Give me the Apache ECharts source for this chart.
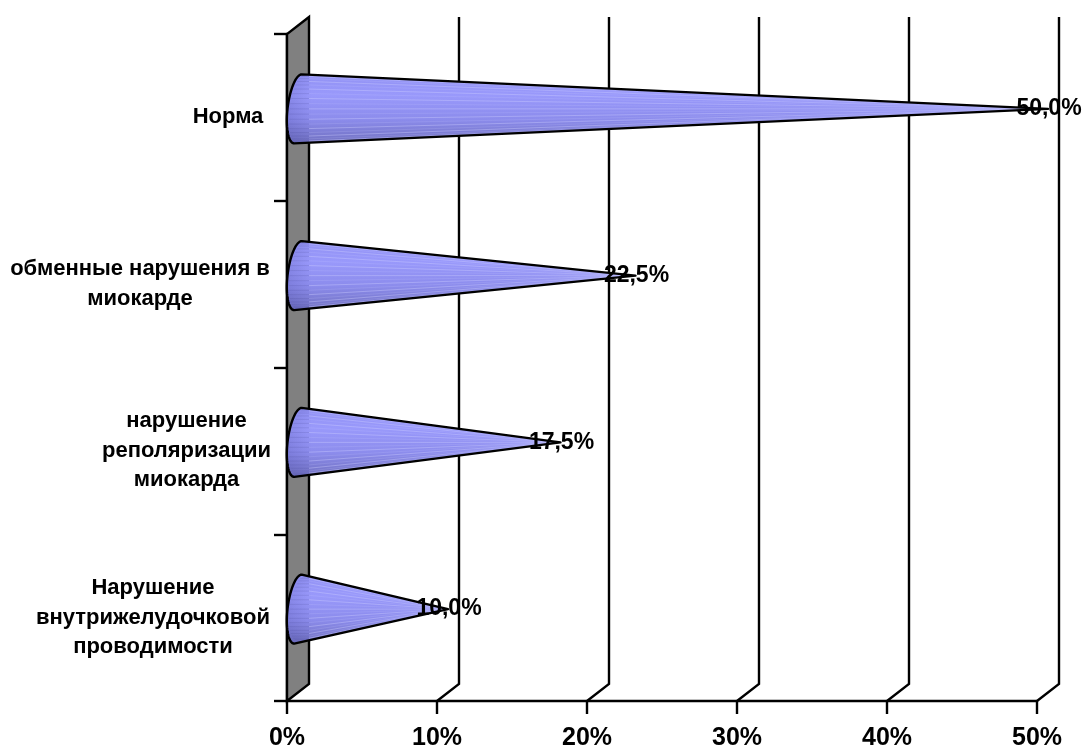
<!DOCTYPE html>
<html>
<head>
<meta charset="utf-8">
<style>html,body{margin:0;padding:0;background:#fff}#chart{width:1085px;height:749px}</style>
<script src="https://cdn.jsdelivr.net/npm/echarts@6/dist/echarts.min.js"></script>
</head>
<body>
<div id="chart"></div>
<script>
// Rows run top to bottom in this order.
const categories = ['Норма', 'обменные нарушения в\nмиокарде', 'нарушение\nреполяризации\nмиокарда', 'Нарушение\nвнутрижелудочковой\nпроводимости'];
const shares = [50, 22.5, 17.5, 10];
const shareLabels = ['50,0%', '22,5%', '17,5%', '10,0%'];
const axisTicks = [0, 10, 20, 30, 40, 50];

// Pseudo-3D depth of the plot box, in pixels.
const DEPTH_X = 22, DEPTH_Y = -17;
const INK = '#000';
const FONT = '"Liberation Sans", Arial, sans-serif';
const STROKE = 2.4;

const chart = echarts.init(document.getElementById('chart'), null, {renderer: 'canvas'});

// Back wall grid lines: a slanted foot from the floor, then straight up the wall.
function renderGridLine(params, api) {
  const x = api.coord([api.value(0), 0])[0];
  const floorY = params.coordSys.y + params.coordSys.height;
  const topY = params.coordSys.y;
  return {
    type: 'polyline',
    shape: {points: [[x, floorY], [x + DEPTH_X, floorY + DEPTH_Y], [x + DEPTH_X, topY + DEPTH_Y]]},
    style: {stroke: INK, lineWidth: STROKE, fill: null},
    silent: true
  };
}

// Grey side wall at the zero line.
function renderWall(params, api) {
  const cs = params.coordSys;
  const x = api.coord([0, 0])[0];
  const b = cs.y + cs.height, t = cs.y;
  return {
    type: 'polygon',
    shape: {points: [[x, b], [x + DEPTH_X, b + DEPTH_Y], [x + DEPTH_X, t + DEPTH_Y], [x, t]]},
    style: {fill: '#808080', stroke: INK, lineWidth: STROKE},
    silent: true
  };
}

// Horizontal cone: elliptical base on the wall, apex at the value.
function renderCone(params, api) {
  const row = api.value(0);
  const value = api.value(1);
  const base = api.coord([0, row]);
  const apex = api.coord([value, row]);
  const cx = base[0] + DEPTH_X / 2, cy = base[1] + DEPTH_Y / 2;
  const tip = [apex[0] + DEPTH_X / 2, apex[1] + DEPTH_Y / 2];
  const halfSpan = api.size([0, 1])[1] * 0.207;
  const lean = 3.8, bulge = 10.5;

  const arc = [];
  for (let i = 0; i <= 40; i++) {
    const t = Math.PI * i / 40;
    arc.push([cx + Math.cos(t) * lean - Math.sin(t) * bulge, cy - Math.cos(t) * halfSpan]);
  }
  const outline = arc.slice().reverse().concat([tip]);
  const top = cy - halfSpan, bottom = cy + halfSpan;

  const children = [{
    type: 'polygon',
    shape: {points: outline},
    style: {
      fill: new echarts.graphic.LinearGradient(0, top, 0, bottom, [
        {offset: 0, color: '#9292f4'},
        {offset: 0.3, color: '#9999fb'},
        {offset: 0.65, color: '#8c8cec'},
        {offset: 1, color: '#7070c0'}
      ], true)
    }
  }, {
    // Shaded band around the base of the cone.
    type: 'polygon',
    shape: {points: outline},
    style: {
      fill: new echarts.graphic.LinearGradient(cx - bulge, 0, cx + 14, 0, [
        {offset: 0, color: 'rgba(60,60,150,0.18)'},
        {offset: 1, color: 'rgba(60,60,150,0)'}
      ], true)
    }
  }];

  // Fine streaks: lighter across the cone body, darker over the wall section.
  const bodyStart = base[0] + DEPTH_X;
  for (let i = 2; i < 39; i += 2) {
    const p = arc[i];
    const frac = (bodyStart - p[0]) / (tip[0] - p[0]);
    const sy = p[1] + (tip[1] - p[1]) * frac;
    children.push({
      type: 'line',
      shape: {x1: bodyStart, y1: sy, x2: tip[0], y2: tip[1]},
      style: {stroke: 'rgba(205,205,255,' + (i % 4 === 0 ? 0.4 : 0.16) + ')', lineWidth: 1}
    });
    children.push({
      type: 'line',
      shape: {x1: p[0] + 2, y1: sy, x2: bodyStart, y2: sy},
      style: {stroke: 'rgba(70,70,140,0.16)', lineWidth: 1}
    });
  }
  children.push({
    type: 'polygon',
    shape: {points: outline},
    style: {fill: null, stroke: INK, lineWidth: STROKE, lineJoin: 'round'}
  });
  children.push({
    type: 'text',
    style: {
      x: tip[0] + 1, y: tip[1], text: api.value(2),
      font: 'bold 23px ' + FONT, fill: INK,
      align: 'center', verticalAlign: 'middle'
    }
  });
  return {type: 'group', children, silent: true};
}

// Each category label is a right-anchored block with its lines centred inside.
const labelBlockWidths = [84, 260, 167, 234];
const labelRich = {};
categories.forEach((c, i) => {
  labelRich['w' + i] = {
    width: labelBlockWidths[i], align: 'center', lineHeight: 29.5,
    fontSize: 22, fontWeight: 'bold', fontFamily: FONT, color: INK
  };
});

chart.setOption({
  animation: false,
  backgroundColor: '#fff',
  grid: {left: 287, right: 48, top: 34, bottom: 48, containLabel: false, outerBoundsMode: 'none'},
  xAxis: {
    type: 'value', min: 0, max: 50, interval: 10,
    axisLine: {show: true, lineStyle: {color: INK, width: STROKE}},
    axisTick: {show: true, length: 13, lineStyle: {color: INK, width: STROKE}},
    splitLine: {show: false},
    axisLabel: {
      margin: 25, color: INK, fontFamily: FONT, fontWeight: 'bold', fontSize: 25,
      formatter: v => v + '%', hideOverlap: false
    }
  },
  yAxis: {
    type: 'category', inverse: true, data: categories,
    axisLine: {show: true, lineStyle: {color: INK, width: STROKE}},
    axisTick: {show: true, length: 13, alignWithLabel: false, lineStyle: {color: INK, width: STROKE}},
    splitLine: {show: false},
    axisLabel: {
      margin: 17, interval: 0, align: 'right',
      formatter: (name, i) => name.split('\n').map(s => '{w' + i + '|' + s + '}').join('\n'),
      rich: labelRich
    }
  },
  series: [
    {type: 'custom', coordinateSystem: 'cartesian2d', renderItem: renderGridLine, clip: false, z: 1,
      data: axisTicks.slice(1).map(v => [v]), encode: {x: 0}},
    {type: 'custom', coordinateSystem: 'cartesian2d', renderItem: renderWall, clip: false, z: 2,
      data: [[0]], encode: {x: 0}},
    {type: 'custom', coordinateSystem: 'cartesian2d', renderItem: renderCone, clip: false, z: 3,
      data: shares.map((v, i) => [i, v, shareLabels[i]]), encode: {y: 0, x: 1},
      dimensions: ['row', 'share', {name: 'label', type: 'ordinal'}]}
  ]
});
</script>
</body>
</html>
